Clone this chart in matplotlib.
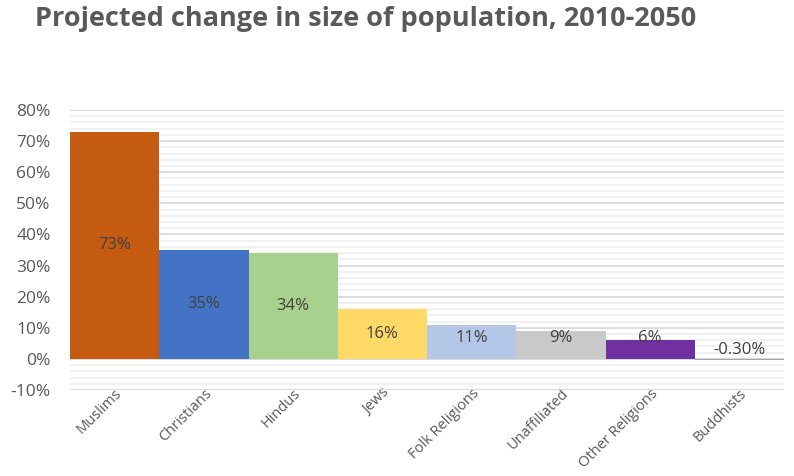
import numpy as np
import matplotlib.pyplot as plt
from matplotlib.ticker import MultipleLocator, FuncFormatter

religions = ["Muslims", "Christians", "Hindus", "Jews", "Folk Religions",
             "Unaffiliated", "Other Religions", "Buddhists"]
change = [73, 35, 34, 16, 11, 9, 6, -0.3]
labels = ["73%", "35%", "34%", "16%", "11%", "9%", "6%", "-0.30%"]
colors = ["#C55A11", "#4472C4", "#A9D18E", "#FFD966", "#B4C7E7",
          "#C9C9C9", "#7030A0", "#A5A5A5"]

plt.rcParams['font.family'] = ['Open Sans', 'DejaVu Sans']

fig = plt.figure(figsize=(7.94, 4.76), dpi=100)
ax = fig.add_axes([70/794, 1 - 390/476, 714/794, 280/476])

x = np.arange(len(religions))
ax.bar(x, change, width=1.0, color=colors, zorder=3)

# data labels, kept off the very bottom for short bars
for xi, v, lab in zip(x, change, labels):
    y = max(v / 2, 6.8) if v > 0 else 2.9
    ax.text(xi, y, lab, ha='center', va='center', fontsize=12,
            color='#404040', zorder=4)

ax.set_xlim(-0.5, len(religions) - 0.5)
ax.set_ylim(-10, 80)
ax.yaxis.set_major_locator(MultipleLocator(10))
ax.yaxis.set_minor_locator(MultipleLocator(2))
ax.yaxis.set_major_formatter(FuncFormatter(lambda v, p: f"{v:.0f}%"))
ax.grid(axis='y', which='major', color='#D9D9D9', lw=1.3, zorder=0)
ax.grid(axis='y', which='minor', color='#F0F0F0', lw=1.3, zorder=0)
ax.axhline(0, color='#D9D9D9', lw=1.3, zorder=2)

for s in ax.spines.values():
    s.set_visible(False)
ax.tick_params(axis='both', which='both', length=0, colors='#595959')
ax.tick_params(axis='y', labelsize=12.5, pad=14)
ax.tick_params(axis='x', labelsize=10.5, pad=-3)
ax.set_xticks(x)
ax.set_xticklabels(religions, rotation=45, ha='right', rotation_mode='anchor')

fig.text(35/794, 1 - 19/476, "Projected change in size of population, 2010-2050",
         fontsize=19.5, fontweight='bold', color='#595959', va='center', ha='left')

fig.savefig("out.png", dpi=100)
